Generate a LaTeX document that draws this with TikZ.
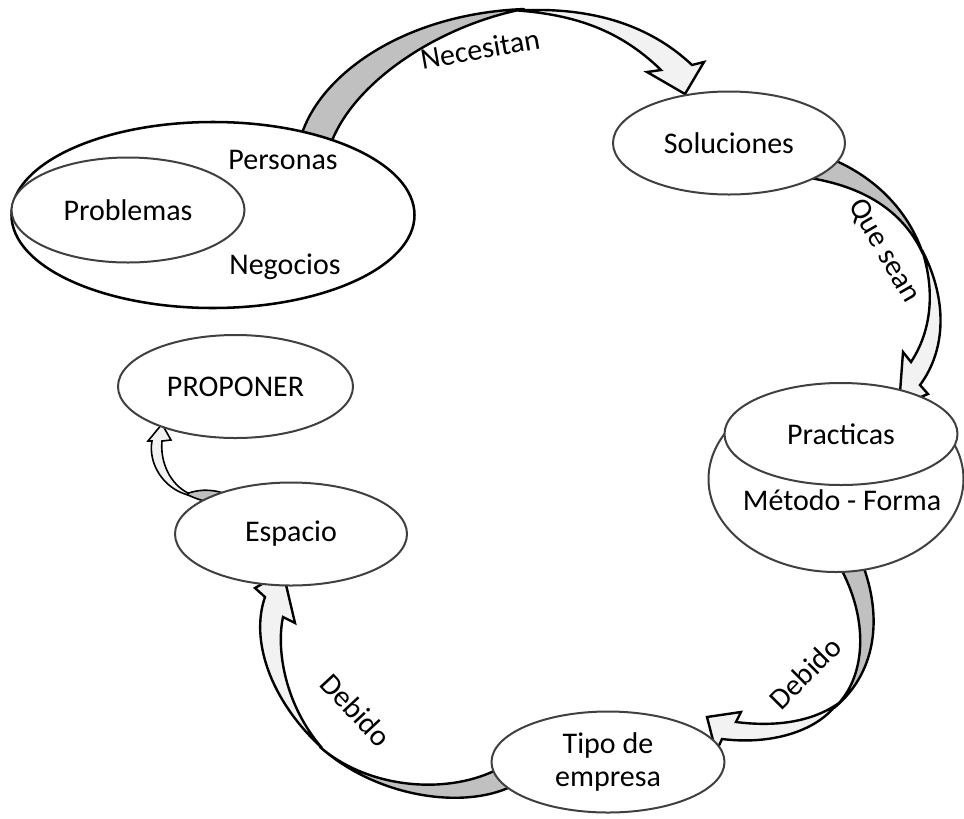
\documentclass[tikz,border=0pt]{standalone}
\usepackage{fontspec}
\setmainfont{Carlito}
\usetikzlibrary{shapes.geometric}
\definecolor{edgegray}{HTML}{404040}
\definecolor{bandlight}{HTML}{F2F2F2}
\definecolor{banddark}{HTML}{C0C0C0}
\begin{document}
\begin{tikzpicture}[x=0.75pt,y=-0.75pt,
  oval/.style={ellipse, draw=edgegray, line width=1.5pt, fill=white, inner sep=0pt,
    font=\fontsize{22.5}{24.75}\selectfont},
  lbl/.style={font=\fontsize{22.5}{27}\selectfont, inner sep=0pt},
  bandd/.style={fill=banddark, draw=black, line width=1.8pt, line join=round},
  bandl/.style={fill=bandlight, draw=black, line width=1.8pt, line join=miter},
  smalld/.style={fill=banddark, draw=black, line width=1.2pt, line join=round},
  smalll/.style={fill=bandlight, draw=black, line width=1.2pt, line join=miter}]
\useasboundingbox (0,0) rectangle (964,818);

% --- block arrows (drawn first, ellipses cover their ends) ---
% Necesitan
\path[bandd] (300,140) .. controls (316,78) and (400,14) .. (524,9)
  .. controls (440,25) and (352,82) .. (330,146) -- cycle;
\path[bandl] (518,10.5) .. controls (600,6) and (655,30) .. (692,65) -- (704,62)
  -- (685,94) -- (647,72) -- (661,70) .. controls (620,30) and (575,15) .. (518,10.5) -- cycle;
% Que sean
\path[bandd] (834,160) .. controls (880,180) and (910,215) .. (923,254)
  .. controls (905,215) and (870,188) .. (810,178) -- cycle;
\path[bandl] (922,250) .. controls (948,300) and (946,350) .. (920,385) -- (928,394)
  -- (899,406) -- (903,352) -- (911,362) .. controls (932,330) and (935,290) .. (922,250) -- cycle;
% Debido (right)
\path[bandd] (860,558) .. controls (882,610) and (880,670) .. (834,708)
  .. controls (865,680) and (872,620) .. (836,560) -- cycle;
\path[bandl] (836,705) .. controls (810,722) and (775,727) .. (736,722) -- (741,712)
  -- (707,717) -- (716,752) -- (722,739) .. controls (770,745) and (815,732) .. (836,705) -- cycle;
% Debido (left)
\path[bandd] (516,784) .. controls (470,810) and (380,800) .. (320,747)
  .. controls (370,790) and (450,795) .. (500,768) -- cycle;
\path[bandl] (322,748) .. controls (270,700) and (250,640) .. (265,597) -- (255,588)
  -- (283,572) -- (295,623) -- (283,617) .. controls (276,650) and (285,705) .. (322,748) -- cycle;
% small arrow Espacio -> PROPONER
\path[smalld] (224,505) .. controls (208,503) and (196,499) .. (186,494)
  .. controls (196,490) and (210,488) .. (226,494) -- cycle;
\path[smalll] (188,495) .. controls (162,488) and (148,462) .. (152,441) -- (148,441)
  -- (162,424) -- (171,440) -- (162,441) .. controls (160,462) and (170,484) .. (188,493) -- cycle;

% --- nodes ---
\node[oval, draw=black, line width=1.9pt, minimum width=302.25pt, minimum height=139.5pt] (grp) at (213,215) {};
\node[oval, minimum width=174.75pt, minimum height=78.75pt] (prob) at (128,210) {Problemas};
\node[lbl] (pers) at (283,160) {Personas};
\node[lbl] (neg) at (285,267) {Negocios};
\node[oval, minimum width=174pt, minimum height=77.25pt] (sol) at (729,143) {Soluciones};
\node[oval, minimum width=191.25pt, minimum height=139.5pt] (pracout) at (836,479) {};
\node[oval, minimum width=174.75pt, minimum height=76.5pt] (prac) at (841,434) {Practicas};
\node[lbl] (metodo) at (842,500) {Método - Forma};
\node[oval, minimum width=174.75pt, minimum height=75.75pt, align=center] (tipo) at (608,762) {Tipo de\\empresa};
\node[oval, minimum width=174pt, minimum height=77.25pt] (esp) at (291,534) {Espacio};
\node[oval, minimum width=176.25pt, minimum height=77.25pt] (prop) at (235.5,386.5) {PROPONER};

% --- arrow labels ---
\node[lbl, rotate=10] (necesitan) at (480,49) {Necesitan};
\node[lbl, rotate=-60] (quesean) at (884,251) {Que sean};
\node[lbl, rotate=45] (debidoA) at (805,673) {Debido};
\node[lbl, rotate=-47] (debidoB) at (356,710) {Debido};
\end{tikzpicture}
\end{document}
